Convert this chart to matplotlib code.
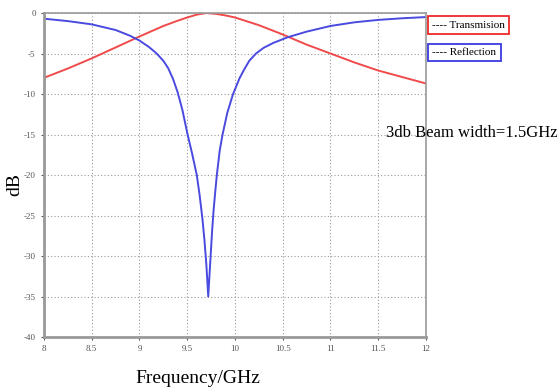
import matplotlib
matplotlib.use('Agg')
import matplotlib.pyplot as plt

plt.rcParams['axes.unicode_minus'] = False

# values
freq_t = [8.0, 8.25, 8.5, 8.75, 9.0, 9.25, 9.4, 9.5, 9.6, 9.7, 9.8, 9.9, 10.0,
          10.25, 10.5, 10.75, 11.0, 11.25, 11.5, 11.75, 12.0]
transmission = [-8.0, -6.85, -5.6, -4.25, -2.9, -1.6, -0.95, -0.55, -0.2, 0.0, -0.1, -0.3, -0.55,
                -1.5, -2.65, -3.9, -5.0, -6.1, -7.1, -7.9, -8.7]

freq_r = [8.0, 8.25, 8.5, 8.75, 8.9, 9.0, 9.1, 9.18, 9.25, 9.3, 9.35, 9.4, 9.45,
          9.5, 9.55, 9.6, 9.63, 9.66, 9.68, 9.70, 9.72, 9.735, 9.745, 9.76, 9.775,
          9.79, 9.81, 9.84, 9.87, 9.92, 9.98, 10.05, 10.1, 10.15, 10.22, 10.3, 10.4,
          10.55, 10.75, 11.0, 11.25, 11.5, 11.75, 12.0]
reflection = [-0.7, -1.0, -1.4, -2.1, -2.8, -3.4, -4.2, -5.0, -5.9, -6.8, -8.1, -9.8, -12.0,
              -14.8, -17.3, -20.0, -22.5, -25.5, -28.0, -31.0, -35.0, -32.0, -30.0, -27.0, -24.5,
              -22.5, -20.0, -17.0, -15.0, -12.3, -10.0, -8.0, -6.9, -5.9, -5.0, -4.3, -3.7,
              -3.0, -2.3, -1.6, -1.15, -0.85, -0.65, -0.5]

x_ticks = [8, 8.5, 9, 9.5, 10, 10.5, 11, 11.5, 12]
x_labels = ['8', '8.5', '9', '9.5', '10', '10.5', '11', '11.5', '12']
y_ticks = [0, -5, -10, -15, -20, -25, -30, -35, -40]

serif = ['Liberation Serif', 'DejaVu Serif']

fig = plt.figure(figsize=(5.59, 3.92), dpi=100)
ax = fig.add_axes([0.0787, 0.1403, 0.6833, 0.8265])

ax.plot(freq_t, transmission, color='#f04a4a', lw=1.4, solid_joinstyle='round')
ax.plot(freq_r, reflection, color='#4a4ae0', lw=1.4, solid_joinstyle='round')

ax.set_xlim(8, 12)
ax.set_ylim(-40, 0)
ax.set_xticks(x_ticks)
ax.set_xticklabels(x_labels)
ax.set_yticks(y_ticks)
ax.grid(True, ls=(0, (1, 2)), color='#999999', lw=0.8)
ax.tick_params(labelsize=6.5, colors='#555555', length=2, width=0.8, pad=4)
for lbl in ax.get_xticklabels() + ax.get_yticklabels():
    lbl.set_family(serif)

for side in ['left', 'bottom']:
    ax.spines[side].set_color('#999999')
    ax.spines[side].set_linewidth(2)
for side in ['top', 'right']:
    ax.spines[side].set_color('#999999')
    ax.spines[side].set_linewidth(1.2)

fig.text(0.354, 0.035, 'Frequency/GHz', family=serif, fontsize=14, ha='center', va='center')
fig.text(0.027, 0.53, 'dB', family=serif, fontsize=14, ha='center', va='center', rotation=90)
fig.text(0.997, 0.66, '3db Beam width=1.5GHz', family=serif, fontsize=12, ha='right', va='center')

fig.text(0.773, 0.936, '---- Transmision', family=serif, fontsize=8, ha='left', va='center',
         bbox=dict(boxstyle='square,pad=0.4', fc='white', ec='#ee2a2a', lw=1.3))
fig.text(0.773, 0.866, '---- Reflection', family=serif, fontsize=8, ha='left', va='center',
         bbox=dict(boxstyle='square,pad=0.4', fc='white', ec='#3a3ae0', lw=1.3))

fig.savefig('out.png', dpi=100)
